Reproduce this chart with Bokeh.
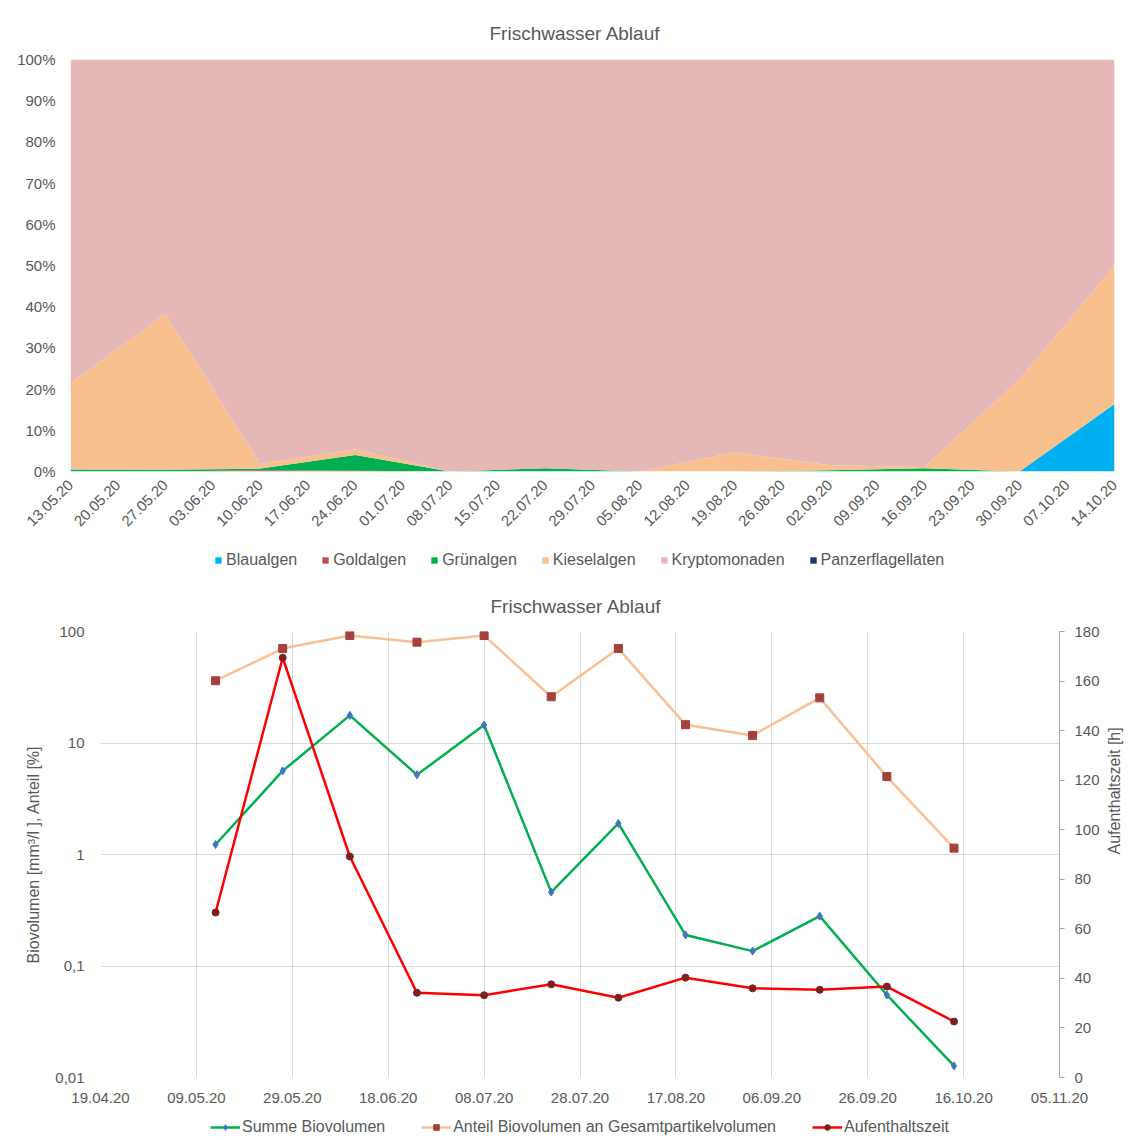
import math
import pandas as pd
from bokeh.plotting import figure
from bokeh.models import (ColumnDataSource, Range1d, FixedTicker, DatetimeTickFormatter,
                          PrintfTickFormatter, Legend, LegendItem, LinearAxis, LinearScale,
                          CustomJSTickFormatter)
from bokeh.layouts import column
from bokeh.embed import file_html
from bokeh.resources import INLINE

# ---------------- data ----------------
sample_dates = ["13.05.20", "27.05.20", "10.06.20", "24.06.20", "08.07.20", "22.07.20",
                "05.08.20", "19.08.20", "02.09.20", "16.09.20", "30.09.20", "14.10.20"]

# top chart: composition in % of biovolume
groups = ["Blaualgen", "Goldalgen", "Grünalgen", "Kieselalgen", "Kryptomonaden", "Panzerflagellaten"]
blaualgen = [0, 0, 0, 0, 0, 0, 0, 0, 0, 0, 0, 16.4]
goldalgen = [0, 0, 0.3, 0.2, 0, 0, 0, 0, 0, 0, 0, 0]
gruenalgen = [0.5, 0.4, 0.4, 3.8, 0, 0.8, 0, 0, 0.3, 0.8, 0, 0]
kieselalgen = [21.0, 37.9, 1.1, 1.4, 0, 0, 0, 4.7, 1.2, 0.3, 22.4, 33.6]
panzerflagellaten = [0, 0, 0, 0, 0, 0, 0, 0, 0, 0, 0, 0]
kryptomonaden = [100 - (b + g + gr + k + pz) for b, g, gr, k, pz in
                 zip(blaualgen, goldalgen, gruenalgen, kieselalgen, panzerflagellaten)]
group_colors = ["#00B0F0", "#C0504D", "#00B050", "#F8C08F", "#E5B7B7", "#1F3864"]

top_tick_labels = ["13.05.20", "20.05.20", "27.05.20", "03.06.20", "10.06.20", "17.06.20",
                   "24.06.20", "01.07.20", "08.07.20", "15.07.20", "22.07.20", "29.07.20",
                   "05.08.20", "12.08.20", "19.08.20", "26.08.20", "02.09.20", "09.09.20",
                   "16.09.20", "23.09.20", "30.09.20", "07.10.20", "14.10.20"]
pct_ticks = [0, 10, 20, 30, 40, 50, 60, 70, 80, 90, 100]

# bottom chart
series_names = ["Summe Biovolumen", "Anteil Biovolumen an Gesamtpartikelvolumen", "Aufenthaltszeit"]
summe_biovolumen = [1.23, 5.62, 17.7, 5.18, 14.5, 0.46, 1.90, 0.19, 0.136, 0.28, 0.055, 0.0127]
anteil_biovolumen = [36.2, 70.3, 92.2, 80.2, 92.0, 26.0, 70.3, 14.6, 11.7, 25.4, 5.0, 1.14]
aufenthaltszeit = [66.6, 169.4, 89.2, 34.2, 33.2, 37.6, 32.2, 40.3, 36.0, 35.4, 36.7, 22.6]

bottom_tick_labels = ["19.04.20", "09.05.20", "29.05.20", "18.06.20", "08.07.20", "28.07.20",
                      "17.08.20", "06.09.20", "26.09.20", "16.10.20", "05.11.20"]
log_ticks = [0.01, 0.1, 1, 10, 100]
hour_ticks = [0, 20, 40, 60, 80, 100, 120, 140, 160, 180]

# ---------------- helpers ----------------
FONT = "Liberation Sans"
TXT = "#595959"
W = 1134

line_styles = [dict(line="#00B050", marker="diamond", mcol="#4472C4", size=8),
               dict(line="#F9C193", marker="square", mcol="#A5403A", size=8),
               dict(line="#FF0000", marker="circle", mcol="#7B2121", size=7)]


def to_ms(strs):
    dti = pd.to_datetime(strs, format="%d.%m.%y")
    return [float((d - pd.Timestamp("1970-01-01")) / pd.Timedelta(milliseconds=1)) for d in dti]


def date_fmt():
    f = "%d.%m.%y"
    return DatetimeTickFormatter(days=f, months=f, years=f)


def style_title(p, offset, standoff):
    p.title.text = "Frischwasser Ablauf"
    p.title.align = "left"
    p.title.text_font = FONT
    p.title.text_font_size = "19px"
    p.title.text_font_style = "normal"
    p.title.text_color = TXT
    p.title.standoff = standoff
    p.title.offset = offset


def legend_fig(height):
    # legend strip; its frame shows a range where the data never falls
    lf = figure(width=W, height=height, output_backend="svg", toolbar_location=None,
                x_axis_location=None, y_axis_location=None, min_border=0,
                x_range=Range1d(0, 1), y_range=Range1d(0, 1))
    lf.grid.grid_line_color = None
    lf.outline_line_color = None
    lf.frame_align = False
    return lf


x = to_ms(sample_dates)

# ---------------- top chart ----------------
p1 = figure(width=W, height=546, x_axis_type="datetime", output_backend="svg",
            toolbar_location=None, x_range=Range1d(x[0], x[-1]), y_range=Range1d(0, 100),
            min_border_left=70, min_border_right=20, min_border_top=59, min_border_bottom=75)
p1.frame_align = False
style_title(p1, 419, 32)

src1 = ColumnDataSource(dict(x=x, Blaualgen=blaualgen, Goldalgen=goldalgen, **{"Grünalgen": gruenalgen},
                             Kieselalgen=kieselalgen, Kryptomonaden=kryptomonaden,
                             Panzerflagellaten=panzerflagellaten))
p1.varea_stack(stackers=groups, x="x", color=group_colors, source=src1)

p1.xgrid.grid_line_color = None
p1.ygrid.grid_line_color = None
p1.outline_line_color = None

p1.xaxis.ticker = FixedTicker(ticks=to_ms(top_tick_labels))
p1.xaxis.formatter = date_fmt()
p1.xaxis.major_label_orientation = math.pi / 4
p1.yaxis.ticker = FixedTicker(ticks=pct_ticks)
p1.yaxis.formatter = PrintfTickFormatter(format="%d%%")
for ax in (p1.xaxis, p1.yaxis):
    ax.axis_line_color = None
    ax.major_tick_line_color = None
    ax.minor_tick_line_color = None
    ax.major_label_text_font = FONT
    ax.major_label_text_font_size = "15px"
    ax.major_label_text_color = TXT
p1.xaxis.major_label_standoff = 5
p1.yaxis.major_label_standoff = 9

# legend strip of the top chart (same data, drawn outside the strip's visible range)
lf1 = legend_fig(32)
rs_leg1 = lf1.varea_stack(stackers=groups, x="x", color=group_colors, source=src1)
leg1 = Legend(items=[LegendItem(label=g, renderers=[r]) for g, r in zip(groups, rs_leg1)],
              orientation="horizontal", location=(214, 9),
              label_text_font=FONT, label_text_font_size="16px", label_text_color=TXT,
              glyph_width=8, glyph_height=8, label_standoff=4, spacing=24,
              border_line_color=None, background_fill_alpha=0, padding=0, margin=0)
lf1.add_layout(leg1)

# ---------------- bottom chart ----------------
p2 = figure(width=W, height=528, x_axis_type="datetime", y_axis_type="log", output_backend="svg",
            toolbar_location=None,
            x_range=Range1d(to_ms(bottom_tick_labels[:1])[0], to_ms(bottom_tick_labels[-1:])[0]),
            y_range=Range1d(0.01, 100),
            min_border_left=100, min_border_right=72, min_border_top=53, min_border_bottom=29)
p2.frame_align = False
style_title(p2, 390, 30)
p2.outline_line_color = None

p2.extra_y_ranges = {"h": Range1d(0, 180)}
p2.extra_y_scales = {"h": LinearScale()}

src2 = ColumnDataSource(dict(x=x, summe=summe_biovolumen, anteil=anteil_biovolumen, aufenthalt=aufenthaltszeit))
cols = ["summe", "anteil", "aufenthalt"]

for col, st, rng in zip(cols, line_styles, ["default", "default", "h"]):
    p2.line("x", col, source=src2, line_color=st["line"], line_width=2.5, y_range_name=rng)
    p2.scatter("x", col, source=src2, marker=st["marker"], size=st["size"],
               fill_color=st["mcol"], line_color=st["mcol"], y_range_name=rng)

p2.xaxis.ticker = FixedTicker(ticks=to_ms(bottom_tick_labels))
p2.xaxis.formatter = date_fmt()
p2.yaxis.ticker = FixedTicker(ticks=log_ticks)
p2.yaxis.formatter = CustomJSTickFormatter(code="return tick.toString().replace('.', ',');")
p2.yaxis.axis_label = "Biovolumen [mm³/l ], Anteil [%]"

ax_h = LinearAxis(y_range_name="h", axis_label="Aufenthaltszeit [h]", ticker=FixedTicker(ticks=hour_ticks))
p2.add_layout(ax_h, "right")
if "axis_label_orientation" in ax_h.properties():
    ax_h.axis_label_orientation = math.pi / 2

for ax in (p2.xaxis[0], p2.yaxis[0], ax_h):
    ax.major_label_text_font = FONT
    ax.major_label_text_font_size = "15px"
    ax.major_label_text_color = TXT
    ax.axis_label_text_font = FONT
    ax.axis_label_text_font_size = "16px"
    ax.axis_label_text_font_style = "normal"
    ax.axis_label_text_color = TXT
    ax.minor_tick_line_color = None

p2.xaxis.axis_line_color = None
p2.xaxis.major_tick_line_color = None
p2.xaxis.major_label_standoff = 9
p2.yaxis[0].axis_line_color = None
p2.yaxis[0].major_tick_line_color = None
p2.yaxis[0].major_label_standoff = 10
p2.yaxis[0].axis_label_standoff = 10
ax_h.axis_line_color = "#A6A6A6"
ax_h.major_tick_line_color = "#A6A6A6"
ax_h.major_tick_out = 5
ax_h.major_tick_in = 0
ax_h.major_label_standoff = 10
ax_h.axis_label_standoff = 12

p2.xgrid.grid_line_color = "#D9D9D9"
p2.ygrid.grid_line_color = "#D9D9D9"
p2.ygrid.minor_grid_line_color = None

# legend strip of the bottom chart (same data, drawn outside the strip's visible range)
lf2 = legend_fig(34)
items2 = []
for name, col, st in zip(series_names, cols, line_styles):
    rl = lf2.line("x", col, source=src2, line_color=st["line"], line_width=2.5)
    rm = lf2.scatter("x", col, source=src2, marker=st["marker"], size=st["size"] - 1,
                     fill_color=st["mcol"], line_color=st["mcol"])
    items2.append(LegendItem(label=name, renderers=[rl, rm]))
leg2 = Legend(items=items2, orientation="horizontal", location=(210, 4),
              label_text_font=FONT, label_text_font_size="16px", label_text_color=TXT,
              glyph_width=30, glyph_height=14, label_standoff=2, spacing=36,
              border_line_color=None, background_fill_alpha=0, padding=0, margin=0)
lf2.add_layout(leg2)

layout = column(p1, lf1, p2, lf2, spacing=0)
open("out.html", "w").write(file_html(layout, INLINE))
